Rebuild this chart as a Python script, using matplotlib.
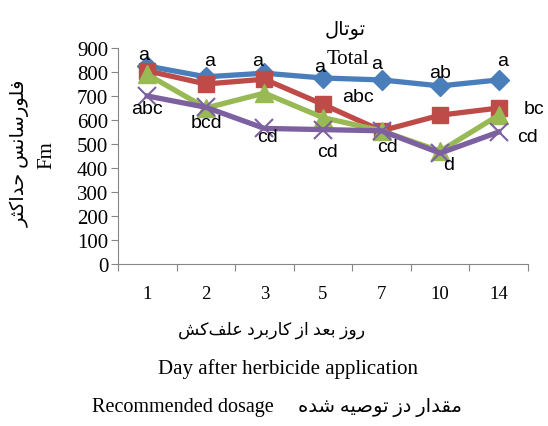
import matplotlib
matplotlib.use('Agg')
import matplotlib.pyplot as plt

# --- data ---
days = ['1', '2', '3', '5', '7', '10', '14']
total_blue = [825, 780, 795, 775, 767, 742, 767]
total_red = [805, 750, 770, 665, 555, 620, 650]
total_green = [790, 650, 712, 610, 555, 470, 620]
total_purple = [700, 653, 565, 560, 555, 462, 550]

# significance letters and where they sit (pixel positions in the figure)
letters = ['a', 'a', 'a', 'a', 'a', 'ab', 'a',
           'abc', 'bc',
           'abc', 'bcd', 'cd', 'cd', 'cd', 'd', 'cd']
letter_px = [(144, 55), (210, 62), (258, 62), (320, 68), (377, 65), (440, 74), (503, 62),
             (358, 97), (534, 109),
             (147, 110), (207, 123), (268, 137), (327, 153), (388, 148), (449, 165), (527, 137)]

# --- minimal Persian shaping (matplotlib has no bidi / joining) ---
FORMS = {
    'ا': ('\uFE8D', '\uFE8E'), 'د': ('\uFEA9', '\uFEAA'), 'ر': ('\uFEAD', '\uFEAE'),
    'ز': ('\uFEAF', '\uFEB0'), 'و': ('\uFEED', '\uFEEE'),
    'ب': ('\uFE8F', '\uFE90', '\uFE91', '\uFE92'), 'ت': ('\uFE95', '\uFE96', '\uFE97', '\uFE98'),
    'ث': ('\uFE99', '\uFE9A', '\uFE9B', '\uFE9C'), 'ح': ('\uFEA1', '\uFEA2', '\uFEA3', '\uFEA4'),
    'س': ('\uFEB1', '\uFEB2', '\uFEB3', '\uFEB4'), 'ش': ('\uFEB5', '\uFEB6', '\uFEB7', '\uFEB8'),
    'ص': ('\uFEB9', '\uFEBA', '\uFEBB', '\uFEBC'), 'ع': ('\uFEC9', '\uFECA', '\uFECB', '\uFECC'),
    'ف': ('\uFED1', '\uFED2', '\uFED3', '\uFED4'), 'ق': ('\uFED5', '\uFED6', '\uFED7', '\uFED8'),
    'ک': ('\uFB8E', '\uFB8F', '\uFB90', '\uFB91'), 'ل': ('\uFEDD', '\uFEDE', '\uFEDF', '\uFEE0'),
    'م': ('\uFEE1', '\uFEE2', '\uFEE3', '\uFEE4'), 'ن': ('\uFEE5', '\uFEE6', '\uFEE7', '\uFEE8'),
    'ه': ('\uFEE9', '\uFEEA', '\uFEEB', '\uFEEC'), 'ی': ('\uFBFC', '\uFBFD', '\uFBFE', '\uFBFF'),
}


def shape(text):
    out = []
    for i, ch in enumerate(text):
        if ch not in FORMS:
            if ch != '\u200c':
                out.append(ch)
            continue
        f = FORMS[ch]
        prev = text[i - 1] if i > 0 else ''
        nxt = text[i + 1] if i + 1 < len(text) else ''
        jp = prev in FORMS and len(FORMS[prev]) == 4
        jn = len(f) == 4 and nxt in FORMS
        if jp and jn:
            out.append(f[3])
        elif jp:
            out.append(f[1])
        elif jn:
            out.append(f[2])
        else:
            out.append(f[0])
    return ''.join(out)[::-1]


FAM = ['Liberation Serif', 'DejaVu Sans']
plt.rcParams['font.family'] = FAM

fig = plt.figure(figsize=(5.48, 4.27), dpi=100)
W, H = 548, 427
ax = fig.add_axes([118 / W, 1 - 265 / H, (528 - 118) / W, (265 - 49) / H])

x = list(range(len(days)))
ax.plot(x, total_blue, color='#4A7EBB', lw=3.8, marker='D', ms=10, zorder=3)
ax.plot(x, total_red, color='#BE4B48', lw=3.8, marker='s', ms=12, zorder=3)
ax.plot(x, total_green, color='#98B954', lw=3.8, marker='^', ms=13, zorder=3)
ax.plot(x, total_purple, color='#7D60A0', lw=3.8, marker='x', ms=13, mew=1.5, zorder=3)

ax.set_xlim(-0.5, len(days) - 0.5)
ax.set_ylim(0, 900)
ax.set_yticks(range(0, 901, 100))
ax.set_xticks([i + 0.5 for i in range(-1, len(days))], minor=False)
ax.set_xticklabels([])
ax.set_xticks(x, minor=True)
ax.set_xticklabels(days, minor=True)
ax.tick_params(axis='x', which='minor', length=0, pad=15, labelsize=13.5)
ax.tick_params(axis='x', which='major', length=5, color='#868686')
ax.tick_params(axis='y', length=5, color='#868686', labelsize=15, pad=2)
for s in ['top', 'right']:
    ax.spines[s].set_visible(False)
for s in ['left', 'bottom']:
    ax.spines[s].set_color('#868686')

for txt, (px, py) in zip(letters, letter_px):
    fig.text(px / W, 1 - py / H, txt, ha='center', va='center', fontsize=14,
             family=['Liberation Sans', 'DejaVu Sans'])

# titles and axis texts
fig.text(345 / W, 1 - 30 / H, shape('توتال'), ha='center', va='center', fontsize=14, family=FAM)
fig.text(348 / W, 1 - 60 / H, 'Total', ha='center', va='center', fontsize=15, family=FAM)

fig.text(20 / W, 1 - 153 / H, shape('فلورسانس حداکثر'), rotation=90, ha='center', va='center',
         fontsize=14, family=FAM)
fig.text(47 / W, 1 - 155 / H, 'Fm', rotation=90, ha='center', va='center', fontsize=15, family=FAM)

fig.text(272 / W, 1 - 330 / H, shape('روز بعد از کاربرد علف\u200cکش'), ha='center', va='center',
         fontsize=12.5, family=FAM)
fig.text(288 / W, 1 - 369 / H, 'Day after herbicide application', ha='center', va='center',
         fontsize=15, family=FAM)
fig.text(92 / W, 1 - 408 / H, 'Recommended dosage', ha='left', va='center', fontsize=14.5, family=FAM)
fig.text(462 / W, 1 - 408 / H, shape('مقدار دز توصیه شده'), ha='right', va='center',
         fontsize=14, family=FAM)

fig.savefig('out.png', dpi=100)
